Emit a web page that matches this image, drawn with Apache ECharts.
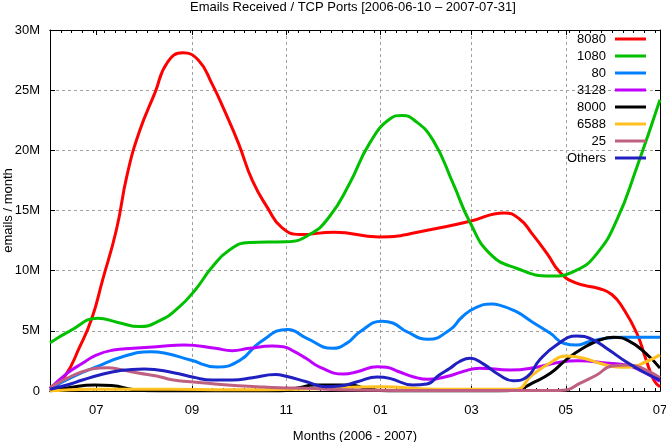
<!DOCTYPE html>
<html>
<head>
<meta charset="utf-8">
<script src="https://cdn.jsdelivr.net/npm/echarts@6/dist/echarts.min.js"></script>
<style>
html,body{margin:0;padding:0;background:#fff;}
#chart{width:666px;height:442px;}
</style>
</head>
<body>
<div id="chart"></div>
<script>
// X values: days since 2006-06-01 (axis runs 2006-06-01 .. 2007-07-01)
// Y values: millions of emails / month
const days8080 = [0, 10, 19, 27, 34, 43, 50, 58, 68, 76, 86, 96, 105, 113, 122, 131, 141, 150, 162, 184, 213, 246, 272, 294, 304, 312, 322, 330, 340, 356, 364, 371, 380, 386, 391, 395];
const port8080 = [0, 1.3, 3.6, 6.0, 9.2, 13.4, 18.0, 21.6, 24.8, 27.3, 28.1, 27.5, 25.5, 23.3, 20.6, 17.5, 15.2, 13.6, 13.0, 13.2, 12.8, 13.4, 14.1, 14.8, 14.3, 13.1, 11.4, 9.9, 9.0, 8.5, 8.0, 6.9, 4.8, 2.6, 0.9, 0.35];

const days1080 = [0, 13, 31, 44, 58, 71, 83, 94, 105, 116, 129, 153, 168, 181, 194, 207, 220, 228, 236, 248, 261, 272, 285, 302, 324, 341, 354, 367, 380, 395];
const port1080 = [4.0, 5.0, 6.05, 5.7, 5.35, 5.85, 6.9, 8.4, 10.3, 11.7, 12.35, 12.4, 13.0, 14.5, 17.25, 20.6, 22.6, 22.9, 22.5, 20.85, 17.25, 14.0, 11.4, 10.2, 9.55, 10.05, 11.4, 14.2, 18.6, 24.2];

const days80 = [0, 15, 30, 47, 65, 74, 91, 108, 123, 136, 154, 166, 183, 192, 201, 215, 222, 231, 245, 259, 267, 276, 286, 291, 302, 312, 324, 333, 341, 349, 360, 371, 395];
const port80 = [0.2, 1.2, 2.0, 2.85, 3.26, 3.15, 2.57, 2.0, 2.55, 4.05, 5.12, 4.4, 3.55, 3.96, 4.95, 5.8, 5.65, 4.93, 4.3, 5.1, 6.17, 6.95, 7.22, 7.14, 6.59, 5.76, 4.79, 3.95, 3.82, 4.1, 4.38, 4.47, 4.47];

const days3128 = [0, 11, 21, 30, 41, 54, 69, 87, 107, 118, 129, 144, 151, 158, 166, 175, 190, 199, 212, 218, 226, 235, 245, 259, 267, 278, 298, 315, 328, 342, 362, 373, 384, 395];
const port3128 = [0.2, 1.47, 2.3, 2.99, 3.4, 3.55, 3.68, 3.82, 3.55, 3.35, 3.55, 3.73, 3.68, 3.3, 2.7, 1.97, 1.41, 1.6, 2.02, 1.97, 1.6, 1.19, 0.97, 1.27, 1.6, 1.9, 1.74, 1.97, 2.35, 2.52, 2.3, 2.16, 1.6, 0.8];

const days8000 = [0, 13, 29, 40, 55, 71, 149, 162, 171, 194, 204, 213, 226, 291, 302, 312, 324, 334, 345, 356, 365, 375, 386, 395];
const port8000 = [0, 0.3, 0.5, 0.45, 0.1, 0, 0, 0.3, 0.5, 0.5, 0.25, 0.05, 0, 0, 0.08, 0.64, 1.47, 2.57, 3.55, 4.24, 4.46, 4.15, 3.1, 1.9];

const days6588 = [0, 26, 78, 116, 162, 213, 252, 291, 302, 312, 324, 334, 345, 356, 367, 375, 386, 395];
const port6588 = [0, 0.15, 0.15, 0.1, 0.15, 0.35, 0.15, 0.15, 0.15, 1.3, 2.35, 2.9, 2.75, 2.3, 2.0, 1.98, 2.43, 3.0];

const days25 = [0, 11, 21, 32, 37, 47, 58, 69, 80, 91, 102, 115, 134, 149, 166, 188, 226, 330, 334, 343, 354, 364, 375, 386, 395];
const port25 = [0.3, 1.05, 1.6, 1.92, 1.94, 1.74, 1.47, 1.25, 0.91, 0.77, 0.64, 0.5, 0.36, 0.27, 0.22, 0.1, 0.05, 0.05, 0.08, 0.64, 1.33, 2.08, 2.16, 1.74, 1.1];

const daysOthers = [0, 11, 21, 32, 45, 61, 80, 93, 105, 118, 131, 146, 153, 166, 178, 188, 199, 212, 220, 235, 244, 252, 259, 265, 272, 280, 291, 300, 309, 317, 328, 341, 351, 362, 373, 384, 395];
const portOthers = [0.15, 0.5, 0.91, 1.33, 1.69, 1.83, 1.52, 1.14, 0.91, 0.91, 1.1, 1.37, 1.22, 0.77, 0.36, 0.42, 0.77, 1.16, 1.05, 0.5, 0.58, 1.33, 1.89, 2.43, 2.72, 2.3, 1.33, 0.86, 1.19, 2.57, 3.82, 4.57, 4.29, 3.4, 2.43, 1.6, 0.91];

const seriesNames = ['8080', '1080', '80', '3128', '8000', '6588', '25', 'Others'];
const seriesColors = ['#ff0000', '#00c000', '#0080ff', '#c000ff', '#000000', '#ffc020', '#c06080', '#2020c0'];

// X axis ticks
const axisStart = '2006-06-01';
const axisEnd = '2007-07-01';
const monthTickDates = ['2006-07-01', '2006-09-01', '2006-11-01', '2007-01-01', '2007-03-01', '2007-05-01', '2007-07-01'];
const monthTickLabels = ['07', '09', '11', '01', '03', '05', '07'];

// Y axis ticks (millions)
const yTicks = [0, 5, 10, 15, 20, 25, 30];
const yTickLabels = ['0', '5M', '10M', '15M', '20M', '25M', '30M'];

function dayOf(s) {
  const p = s.split('-').map(Number);
  const b = axisStart.split('-').map(Number);
  return Math.round((Date.UTC(p[0], p[1] - 1, p[2]) - Date.UTC(b[0], b[1] - 1, b[2])) / 86400000);
}
const xMax = dayOf(axisEnd);
const majorDays = monthTickDates.map(dayOf);

const allDays = [days8080, days1080, days80, days3128, days8000, days6588, days25, daysOthers];
const allValues = [port8080, port1080, port80, port3128, port8000, port6588, port25, portOthers];

const FONT = 'Liberation Sans, Arial, sans-serif';
const gridLine = { show: true, showMinLine: false, showMaxLine: false, lineStyle: { color: '#a0a0a0', type: [3, 3], width: 1 } };
const blackLine = { show: true, onZero: false, lineStyle: { color: '#000', width: 1 } };

const chart = echarts.init(document.getElementById('chart'), null, { renderer: 'canvas' });

const series = seriesNames.map((name, i) => ({
  name: name,
  type: 'line',
  xAxisIndex: 0,
  yAxisIndex: 0,
  smooth: 0.5,
  symbol: 'none',
  showSymbol: false,
  lineStyle: { width: 3, color: seriesColors[i] },
  itemStyle: { color: seriesColors[i] },
  emphasis: { disabled: true },
  data: allDays[i].map((d, j) => [d, allValues[i][j]])
}));

chart.setOption({
  animation: false,
  backgroundColor: '#fff',
  title: {
    text: 'Emails Received / TCP Ports [2006-06-10 \u2013 2007-07-31]',
    left: 190, top: 1, padding: 0,
    textStyle: { fontFamily: FONT, fontSize: 13, fontWeight: 'normal', color: '#000' }
  },
  grid: { left: 50, right: 6, top: 30, bottom: 51, containLabel: false, outerBoundsMode: 'none' },
  legend: {
    orient: 'vertical',
    right: 20, top: 29.5, padding: 0,
    align: 'right',
    icon: 'rect',
    itemWidth: 31, itemHeight: 3,
    itemGap: -2,
    selectedMode: false,
    data: seriesNames,
    textStyle: { fontFamily: FONT, fontSize: 13, color: '#000', lineHeight: 13, padding: [6, 4, 0, 0] }
  },
  xAxis: [
    {
      type: 'value', position: 'bottom', min: 0, max: xMax, interval: 7,
      axisLine: blackLine,
      axisTick: { show: true, inside: true, length: 3, lineStyle: { color: '#000' } },
      axisLabel: { show: false },
      splitLine: { show: false }
    },
    {
      type: 'value', position: 'bottom', min: 0, max: xMax,
      axisLine: blackLine,
      axisTick: { show: true, inside: true, length: 5, customValues: majorDays, lineStyle: { color: '#000' } },
      axisLabel: {
        show: true, customValues: majorDays, margin: 13,
        fontFamily: FONT, fontSize: 13, color: '#000',
        formatter: function (v) { const k = majorDays.indexOf(Math.round(v)); return k >= 0 ? monthTickLabels[k] : ''; }
      },
      splitLine: gridLine,
      name: 'Months (2006 - 2007)', nameLocation: 'middle', nameGap: 39, nameMoveOverlap: false,
      nameTextStyle: { fontFamily: FONT, fontSize: 13, color: '#000' }
    },
    {
      type: 'value', position: 'top', min: 0, max: xMax, interval: 7,
      axisLine: blackLine,
      axisTick: { show: true, inside: true, length: 3, lineStyle: { color: '#000' } },
      axisLabel: { show: false },
      splitLine: { show: false }
    },
    {
      type: 'value', position: 'top', min: 0, max: xMax,
      axisLine: blackLine,
      axisTick: { show: true, inside: true, length: 5, customValues: majorDays, lineStyle: { color: '#000' } },
      axisLabel: { show: false },
      splitLine: { show: false }
    }
  ],
  yAxis: [
    {
      type: 'value', position: 'left', min: yTicks[0], max: yTicks[yTicks.length - 1], interval: yTicks[1] - yTicks[0],
      axisLine: blackLine,
      axisTick: { show: true, inside: true, length: 5, lineStyle: { color: '#000' } },
      axisLabel: {
        margin: 10, fontFamily: FONT, fontSize: 13, color: '#000',
        formatter: function (v) { const k = yTicks.indexOf(v); return k >= 0 ? yTickLabels[k] : ''; }
      },
      splitLine: gridLine,
      name: 'emails / month', nameLocation: 'middle', nameGap: 35, nameMoveOverlap: false,
      nameTextStyle: { fontFamily: FONT, fontSize: 13, color: '#000' }
    },
    {
      type: 'value', position: 'right', min: yTicks[0], max: yTicks[yTicks.length - 1], interval: yTicks[1] - yTicks[0],
      axisLine: blackLine,
      axisTick: { show: true, inside: true, length: 5, lineStyle: { color: '#000' } },
      axisLabel: { show: false },
      splitLine: { show: false }
    }
  ],
  series: series
});
</script>
</body>
</html>
